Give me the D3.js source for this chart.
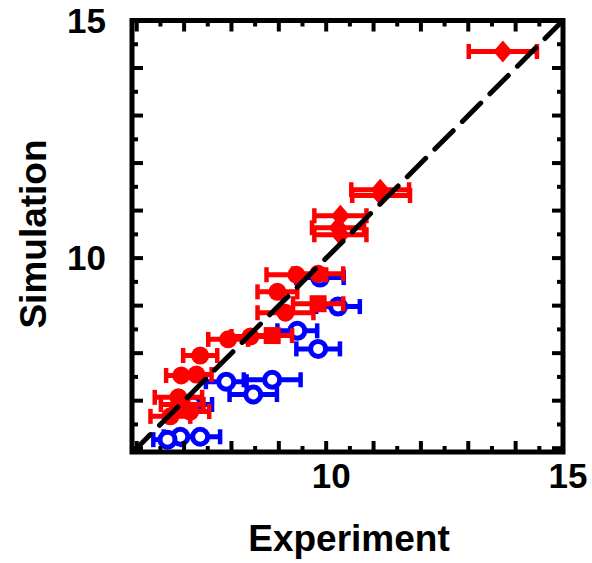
<!DOCTYPE html>
<html><head><meta charset="utf-8">
<script src="https://cdn.jsdelivr.net/npm/d3@7"></script>
<style>body{margin:0;background:#fff}svg{display:block}</style>
</head><body>
<svg id="c" width="592" height="563"></svg>
<script>
// Red diamonds: x, y, xerr
const redDiamondX = [13.73, 11.14, 11.16, 10.30, 10.25, 10.30];
const redDiamondY = [14.35, 11.44, 11.32, 10.89, 10.64, 10.49];
const redDiamondE = [0.72, 0.61, 0.61, 0.55, 0.55, 0.55];
// Red filled circles
const redCircleX = [9.37, 9.83, 8.97, 9.14, 8.40, 7.93, 7.34, 6.94, 7.26, 6.88, 6.96, 6.71, 7.13];
const redCircleY = [9.65, 9.67, 9.29, 8.85, 8.35, 8.29, 7.95, 7.53, 7.55, 7.07, 6.92, 6.67, 6.77];
const redCircleE = [0.63, 0.53, 0.42, 0.59, 0.40, 0.42, 0.36, 0.32, 0.32, 0.50, 0.45, 0.42, 0.40];
// Red squares
const redSquareX = [9.83, 8.86];
const redSquareY = [9.04, 8.37];
const redSquareE = [0.53, 0.42];
// Blue open circles
const blueX = [9.87, 10.25, 9.39, 9.83, 7.89, 8.86, 8.46, 7.34, 6.92, 6.65, 7.19];
const blueY = [9.59, 8.98, 8.47, 8.09, 7.40, 7.44, 7.13, 6.24, 6.24, 6.18, 6.92];
const blueE = [0.50, 0.46, 0.42, 0.46, 0.43, 0.60, 0.50, 0.42, 0.35, 0.30, 0.40];
const majorTicks = [6,7,8,9,10,11,12,13,14,15];
const minorTicks = [6.5,7.5,8.5,9.5,10.5,11.5,12.5,13.5,14.5];
const tickLabels = [10, 15];

const L = 132, R = 563, T = 20.5, B = 452;
const x = d3.scaleLinear().domain([5.9, 15]).range([L, R]);
const y = d3.scaleLinear().domain([5.92, 15]).range([B, T]);
const svg = d3.select('#c');

svg.append('clipPath').attr('id','clp').append('rect')
  .attr('x', L).attr('y', T).attr('width', R-L).attr('height', B-T);

const plot = svg.append('g').attr('clip-path','url(#clp)');

function errBars(g, xs, ys, es, color){
  xs.forEach((v,i)=>{
    const cy = y(ys[i]), x0 = x(v-es[i]), x1 = x(v+es[i]);
    g.append('line').attr('x1',x0).attr('x2',x1).attr('y1',cy).attr('y2',cy)
      .attr('stroke',color).attr('stroke-width',5);
    [x0,x1].forEach(cx=>g.append('line').attr('x1',cx).attr('x2',cx)
      .attr('y1',cy-7.5).attr('y2',cy+7.5).attr('stroke',color).attr('stroke-width',4.5));
  });
}

// Blue series
errBars(plot, blueX, blueY, blueE, '#0000ff');
blueX.forEach((v,i)=>plot.append('circle').attr('cx',x(v)).attr('cy',y(blueY[i])).attr('r',7.5)
  .attr('fill','#fff').attr('stroke','#0000ff').attr('stroke-width',5));

// Red series
errBars(plot, redCircleX, redCircleY, redCircleE, '#ff0000');
errBars(plot, redSquareX, redSquareY, redSquareE, '#ff0000');
errBars(plot, redDiamondX, redDiamondY, redDiamondE, '#ff0000');
redCircleX.forEach((v,i)=>plot.append('circle').attr('cx',x(v)).attr('cy',y(redCircleY[i])).attr('r',9).attr('fill','#ff0000'));
redSquareX.forEach((v,i)=>plot.append('rect').attr('x',x(v)-8.5).attr('y',y(redSquareY[i])-8.5).attr('width',17).attr('height',17).attr('fill','#ff0000'));
redDiamondX.forEach((v,i)=>{
  const cx = x(v), cy = y(redDiamondY[i]);
  plot.append('path').attr('d',`M${cx},${cy-11}L${cx+9.5},${cy}L${cx},${cy+11}L${cx-9.5},${cy}Z`).attr('fill','#ff0000');
});

// Diagonal y = x
plot.append('line').attr('x1',x(5.9)).attr('y1',y(5.9)).attr('x2',x(15.2)).attr('y2',y(15.2))
  .attr('stroke','#000').attr('stroke-width',5).attr('stroke-dasharray','26,13').attr('stroke-linecap','round');

// Frame
svg.append('rect').attr('x',L).attr('y',T).attr('width',R-L).attr('height',B-T)
  .attr('fill','none').attr('stroke','#000').attr('stroke-width',5);

// Ticks (inward, all sides)
const tk = svg.append('g').attr('stroke','#000').attr('stroke-width',4);
function ticks(vals, len){
  vals.forEach(v=>{
    tk.append('line').attr('x1',x(v)).attr('x2',x(v)).attr('y1',B).attr('y2',B-len);
    tk.append('line').attr('x1',x(v)).attr('x2',x(v)).attr('y1',T).attr('y2',T+len);
    tk.append('line').attr('y1',y(v)).attr('y2',y(v)).attr('x1',L).attr('x2',L+len);
    tk.append('line').attr('y1',y(v)).attr('y2',y(v)).attr('x1',R).attr('x2',R-len);
  });
}
ticks(majorTicks, 11);
ticks(minorTicks, 6);

const font = '"Liberation Sans", Arial, sans-serif';
svg.selectAll('.xl').data(tickLabels).enter().append('text')
  .attr('x',d=>x(d)+5).attr('y',488).attr('text-anchor','middle')
  .attr('font-family',font).attr('font-weight','bold').attr('font-size',35).text(d=>d);
svg.selectAll('.yl').data(tickLabels).enter().append('text')
  .attr('x',106).attr('y',d=>y(d)+12).attr('text-anchor','end')
  .attr('font-family',font).attr('font-weight','bold').attr('font-size',35).text(d=>d);

svg.append('text').attr('x',349).attr('y',551).attr('text-anchor','middle')
  .attr('font-family',font).attr('font-weight','bold').attr('font-size',37).text('Experiment');
svg.append('text').attr('transform','translate(46,234) rotate(-90)').attr('text-anchor','middle')
  .attr('font-family',font).attr('font-weight','bold').attr('font-size',37).text('Simulation');
</script>
</body></html>
